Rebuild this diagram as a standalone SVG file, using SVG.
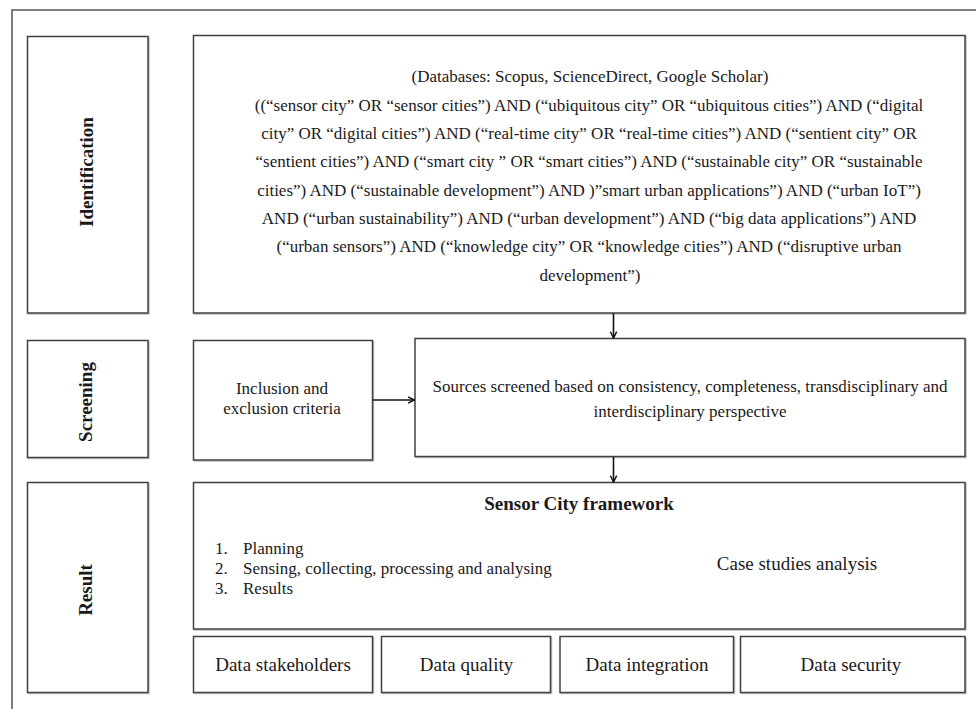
<svg xmlns="http://www.w3.org/2000/svg" width="976" height="709" viewBox="0 0 976 709">
<style>
.box{fill:#fff;stroke:#404040;stroke-width:1.5;filter:url(#sh)}
.t{font-family:"Liberation Serif","Times New Roman",serif;fill:#1a1a1a}
.q{font-size:17px;text-anchor:middle}
.m{font-size:19px;text-anchor:middle}
.lab{font-size:19px;font-weight:bold;text-anchor:middle}
.conn{stroke:#111;stroke-width:1.6;fill:none;marker-end:url(#ah)}
</style>
<defs>
<filter id="sh" x="-5%" y="-5%" width="110%" height="110%">
<feDropShadow dx="1" dy="1" stdDeviation="0.7" flood-color="#000" flood-opacity="0.25"/>
</filter>
<marker id="ah" viewBox="0 0 10 10" refX="9" refY="5" markerWidth="8" markerHeight="8" markerUnits="userSpaceOnUse" orient="auto">
<path d="M1,1 L9,5 L1,9" fill="none" stroke="#111" stroke-width="1.8"/>
</marker>
</defs>
<rect width="976" height="709" fill="#fff"/>
<path d="M12,709 V10 H976" fill="none" stroke="#555" stroke-width="1.5"/>

<g id="identification">
<rect class="box" x="27.5" y="36.5" width="120.5" height="276.5"/>
<text class="t lab" transform="translate(93,172) rotate(-90)">Identification</text>
</g>
<g id="query">
<rect class="box" x="193.5" y="35.5" width="771.5" height="277.5"/>
<text class="t q" x="590" y="82">(Databases: Scopus, ScienceDirect, Google Scholar)</text>
<text class="t q" x="589" y="110.5">((“sensor city” OR “sensor cities”) AND (“ubiquitous city” OR “ubiquitous cities”) AND (“digital</text>
<text class="t q" x="589" y="139">city” OR “digital cities”) AND (“real-time city” OR “real-time cities”) AND (“sentient city” OR</text>
<text class="t q" x="589" y="167">“sentient cities”) AND (“smart city ” OR “smart cities”) AND (“sustainable city” OR “sustainable</text>
<text class="t q" x="589" y="195.5">cities”) AND (“sustainable development”) AND )”smart urban applications”) AND (“urban IoT”)</text>
<text class="t q" x="589" y="224">AND (“urban sustainability”) AND (“urban development”) AND (“big data applications”) AND</text>
<text class="t q" x="589" y="252">(“urban sensors”) AND (“knowledge city” OR “knowledge cities”) AND (“disruptive urban</text>
<text class="t q" x="590" y="280.5">development”)</text>
</g>

<g id="screening">
<rect class="box" x="27.5" y="340.5" width="120.5" height="117"/>
<text class="t lab" transform="translate(92,402) rotate(-90)">Screening</text>
</g>
<g id="inclusion">
<rect class="box" x="193.5" y="340.5" width="179" height="119.5"/>
<text class="t q" x="282" y="394">Inclusion and</text>
<text class="t q" x="282" y="414">exclusion criteria</text>
</g>
<g id="sources">
<rect class="box" x="415" y="338.5" width="550" height="118"/>
<text class="t q" x="690" y="392">Sources screened based on consistency, completeness, transdisciplinary and</text>
<text class="t q" x="690" y="417">interdisciplinary perspective</text>
</g>

<g id="result">
<rect class="box" x="27.5" y="482.5" width="120.5" height="210"/>
<text class="t lab" transform="translate(92,590) rotate(-90)">Result</text>
</g>
<g id="framework">
<rect class="box" x="193.5" y="482.5" width="771.5" height="146.5"/>
<text class="t" x="579" y="510" style="font-size:19px;font-weight:bold;text-anchor:middle">Sensor City framework</text>
<text class="t" x="215" y="554" style="font-size:17px">1.</text>
<text class="t" x="243" y="554" style="font-size:17px">Planning</text>
<text class="t" x="215" y="574" style="font-size:17px">2.</text>
<text class="t" x="243" y="574" style="font-size:17px">Sensing, collecting, processing and analysing</text>
<text class="t" x="215" y="594" style="font-size:17px">3.</text>
<text class="t" x="243" y="594" style="font-size:17px">Results</text>
<text class="t m" x="797" y="570">Case studies analysis</text>
</g>
<g id="stakeholders">
<rect class="box" x="193.5" y="636.5" width="179" height="56"/>
<text class="t m" x="283" y="671">Data stakeholders</text>
</g>
<g id="quality">
<rect class="box" x="381.5" y="636.5" width="169" height="56"/>
<text class="t m" x="466.5" y="671">Data quality</text>
</g>
<g id="integration">
<rect class="box" x="560" y="636.5" width="173.5" height="56"/>
<text class="t m" x="647" y="671">Data integration</text>
</g>
<g id="security">
<rect class="box" x="740.5" y="636.5" width="224.5" height="56"/>
<text class="t m" x="851" y="671">Data security</text>
</g>

<g id="connectors">
<path class="conn" d="M613.5,313.5 V338"/>
<path class="conn" d="M372.5,400 H414.5"/>
<path class="conn" d="M613.5,457 V482"/>
</g>
</svg>
